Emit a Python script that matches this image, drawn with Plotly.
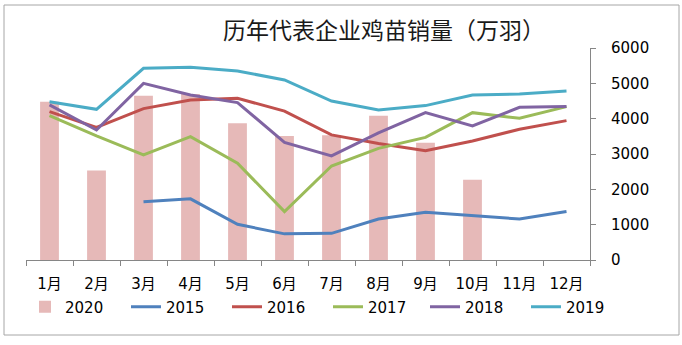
import plotly.graph_objects as go

months = ["1月", "2月", "3月", "4月", "5月", "6月", "7月", "8月", "9月", "10月", "11月", "12月"]
y2020 = [4480, 2530, 4650, 4700, 3870, 3510, 3530, 4080, 3320, 2270, None, None]
y2015 = [None, None, 1650, 1730, 1010, 740, 755, 1160, 1350, 1255, 1160, 1370]
y2016 = [4200, 3755, 4285, 4530, 4575, 4215, 3540, 3300, 3095, 3370, 3700, 3945]
y2017 = [4085, 3510, 2975, 3490, 2740, 1370, 2660, 3160, 3470, 4170, 4010, 4340]
y2018 = [4390, 3680, 5000, 4670, 4455, 3330, 2945, 3600, 4170, 3795, 4320, 4345]
y2019 = [4480, 4265, 5425, 5455, 5350, 5095, 4500, 4245, 4370, 4670, 4700, 4785]
y_ticks = [0, 1000, 2000, 3000, 4000, 5000, 6000]

line_series = [
    ("2015", y2015, "#4F81BD", "legend"),
    ("2016", y2016, "#C0504D", "legend"),
    ("2017", y2017, "#9BBB59", "legend"),
    ("2018", y2018, "#8064A2", "legend2"),
    ("2019", y2019, "#4BACC6", "legend2"),
]

fig = go.Figure()
fig.add_trace(go.Bar(x=months, y=y2020, name="2020", marker_color="#E6B9B8",
                     marker_line_width=0, legend="legend"))
for name, vals, color, lg in line_series:
    fig.add_trace(go.Scatter(x=months, y=vals, name=name, mode="lines", legend=lg,
                             line=dict(color=color, width=3), connectgaps=False))

W, H = 682, 345
L, R, T, B = 26, 92, 48, 85
pw, ph = W - L - R, H - T - B

def px(x):
    return (x - L) / pw

def py(y):
    return (H - B - y) / ph

fig.add_shape(type="rect", xref="paper", yref="paper",
              x0=px(4), x1=px(679), y0=py(335), y1=py(5),
              line=dict(color="#A6A6A6", width=1), layer="below")

legend_style = dict(orientation="h", xanchor="left", y=py(307), yanchor="middle",
                    font=dict(size=15, family="DejaVu Sans", color="#000000"),
                    entrywidth=56, entrywidthmode="pixels", traceorder="normal",
                    itemwidth=30, bgcolor="rgba(0,0,0,0)")

fig.update_layout(
    width=W, height=H,
    margin=dict(l=L, r=R, t=T, b=B),
    paper_bgcolor="white", plot_bgcolor="white",
    bargap=0.6,
    showlegend=True,
    title=dict(text="历年代表企业鸡苗销量（万羽）", x=384 / W, xanchor="center",
               y=1 - 31 / H, yanchor="middle",
               font=dict(family="Noto Sans CJK SC", size=23, color="#1a1a1a")),
    font=dict(family="DejaVu Sans, Noto Sans CJK SC", size=15, color="#000000"),
    legend=dict(x=px(25), **legend_style),
    legend2=dict(x=px(425), **legend_style),
    xaxis=dict(type="category", showgrid=False, showline=True, linecolor="#868686",
               linewidth=1, ticks="outside", ticklen=5, tickcolor="#868686",
               tickson="boundaries", ticklabelstandoff=10,
               tickfont=dict(size=15, family="DejaVu Sans, Noto Sans CJK SC")),
    yaxis=dict(side="right", range=[0, 6000], tickvals=y_ticks, showgrid=False,
               showline=True, linecolor="#868686", linewidth=1, ticks="outside",
               ticklen=5, tickcolor="#868686", zeroline=False,
               ticklabelstandoff=12,
               tickfont=dict(size=15, family="DejaVu Sans")),
)

fig.write_html("out.html")
